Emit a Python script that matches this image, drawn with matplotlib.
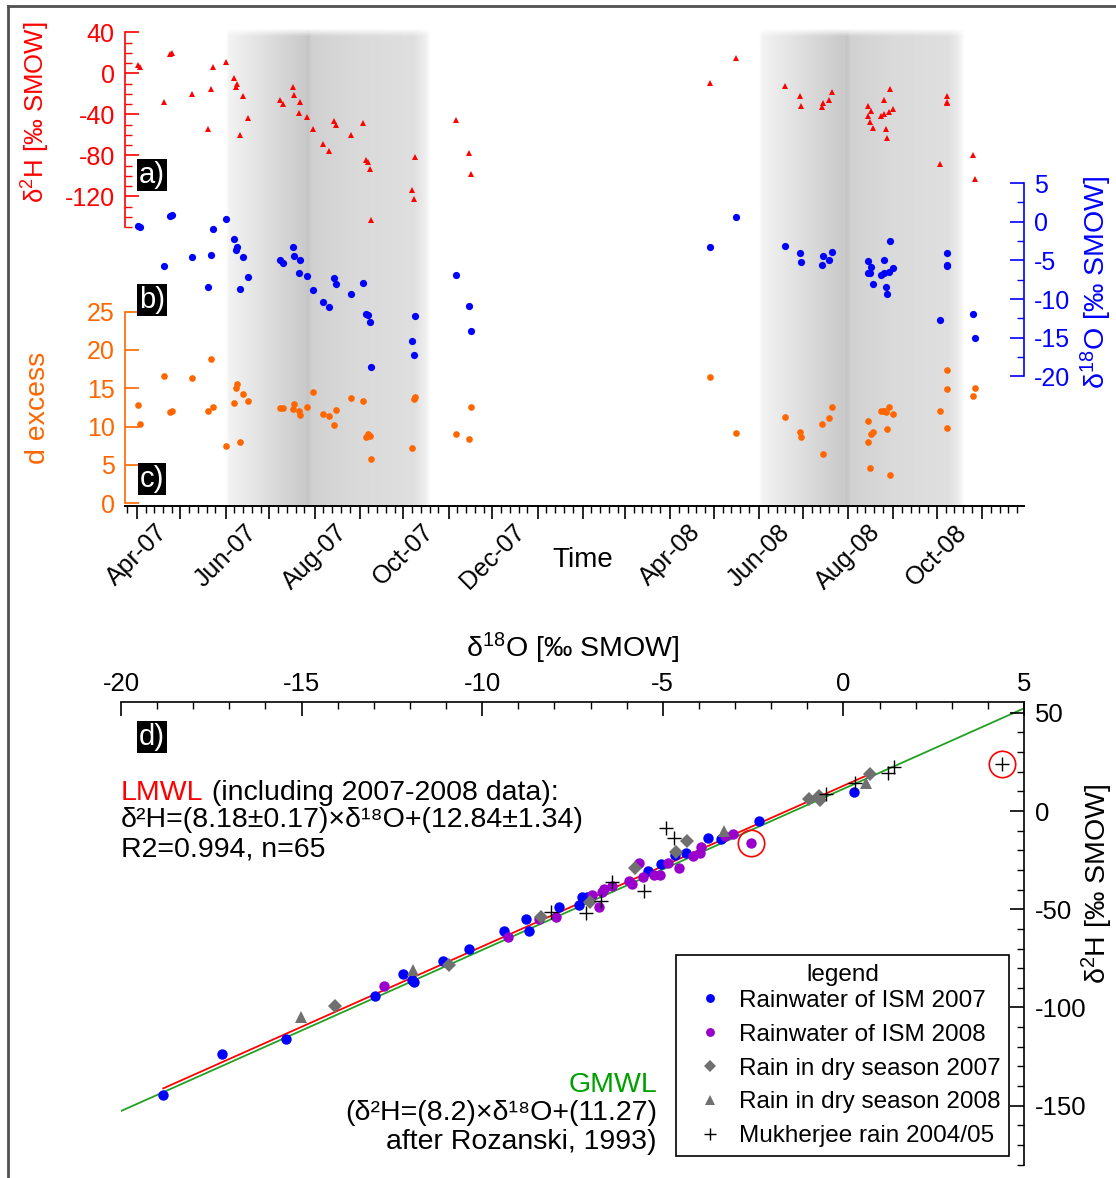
import matplotlib
matplotlib.use("Agg")
import matplotlib.pyplot as plt
import matplotlib.dates as mdates
from matplotlib.lines import Line2D
from matplotlib.ticker import FixedLocator, MultipleLocator, FuncFormatter, NullLocator
import numpy as np

plt.rcParams["font.family"] = ["Liberation Sans", "DejaVu Sans"]
plt.rcParams["mathtext.fontset"] = "custom"
plt.rcParams["mathtext.rm"] = "Liberation Sans"
plt.rcParams["mathtext.it"] = "Liberation Sans:italic"
plt.rcParams["mathtext.default"] = "regular"
plt.rcParams["axes.unicode_minus"] = False

W, H = 1116, 1178

# ---------------- rain samples, time series (panels a-c)
sample_dates = [
    "2007-04-02", "2007-04-03", "2007-04-20", "2007-04-24", "2007-04-25",
    "2007-05-09", "2007-05-20", "2007-05-22", "2007-05-23", "2007-06-01",
    "2007-06-07", "2007-06-08", "2007-06-09", "2007-06-11", "2007-06-13",
    "2007-06-16", "2007-07-08", "2007-07-10", "2007-07-17", "2007-07-18",
    "2007-07-21", "2007-07-22", "2007-07-27", "2007-07-31", "2007-08-07",
    "2007-08-11", "2007-08-14", "2007-08-16", "2007-08-26", "2007-09-03",
    "2007-09-05", "2007-09-07", "2007-09-08", "2007-09-09", "2007-10-07",
    "2007-10-08", "2007-10-09", "2007-11-06", "2007-11-15", "2007-11-16",
    "2008-04-28", "2008-05-16", "2008-06-19", "2008-06-29", "2008-06-30",
    "2008-07-14", "2008-07-15", "2008-07-19", "2008-07-21", "2008-08-15",
    "2008-08-15", "2008-08-16", "2008-08-17", "2008-08-18", "2008-08-24",
    "2008-08-26", "2008-08-26", "2008-08-27", "2008-08-28", "2008-08-29",
    "2008-08-30", "2008-09-01", "2008-10-03", "2008-10-08", "2008-10-08",
    "2008-10-08", "2008-10-26", "2008-10-27",
]
d2h_series = [
    8.1, 6.4, -27.7, 18.8, 19.5, -20.2, -54.0, -15.0, 6.1, 10.7,
    -4.6, -13.7, -10.0, -60.0, -21.8, -43.3, -25.7, -30.0, -13.7, -21.0,
    -39.0, -27.7, -43.0, -54.3, -69.3, -75.5, -46.8, -50.7, -59.9, -48.0,
    -85.0, -86.2, -93.0, -143.0, -114.0, -122.6, -82.0, -45.6, -77.5, -98.2,
    -9.2, 14.9, -12.4, -21.8, -32.2, -33.2, -28.7, -26.3, -17.9, -31.9,
    -41.3, -47.8, -36.8, -53.0, -42.0, -26.3, -40.0, -54.6, -63.1, -38.0,
    -15.6, -34.8, -88.2, -22.4, -27.7, -29.3, -80.0, -103.4,
]
d18o_series = [
    -0.6, -0.7, -5.7, 0.8, 0.85, -4.6, -8.4, -4.3, -0.9, 0.3,
    -2.3, -3.7, -3.3, -8.7, -4.6, -7.2, -4.9, -5.4, -3.3, -4.4,
    -6.6, -5.0, -7.0, -8.8, -10.4, -11.0, -7.3, -8.0, -9.4, -7.9,
    -11.9, -12.1, -13.0, -18.8, -15.4, -17.2, -12.2, -6.9, -10.9, -14.1,
    -3.3, 0.65, -3.1, -4.0, -5.2, -5.6, -4.5, -4.9, -3.9, -5.1,
    -6.6, -6.7, -5.9, -8.0, -6.9, -5.0, -6.7, -8.5, -9.3, -6.5,
    -2.5, -6.0, -12.7, -4.1, -5.7, -5.6, -12.0, -15.0,
]
dexcess_series = [
    12.8, 10.3, 16.6, 11.9, 12.1, 16.3, 12.0, 18.8, 12.6, 7.5,
    13.1, 15.1, 15.6, 8.0, 14.2, 13.4, 12.4, 12.4, 12.3, 13.0,
    12.0, 11.5, 12.6, 14.5, 11.7, 11.4, 10.2, 12.2, 13.7, 13.3,
    8.6, 9.1, 8.8, 5.8, 7.2, 13.6, 13.9, 9.0, 8.4, 12.6,
    16.5, 9.2, 11.3, 9.3, 8.6, 10.4, 6.4, 11.1, 12.6, 8.0,
    10.8, 4.6, 9.1, 9.3, 12.0, 12.0, 12.1, 11.9, 9.7, 12.5,
    3.7, 11.7, 12.1, 9.8, 17.4, 14.9, 14.0, 15.1,
]
# monsoon seasons: start, darkest, end
monsoon_2007 = ["2007-06-01", "2007-07-27", "2007-10-19"]
monsoon_2008 = ["2008-06-01", "2008-07-31", "2008-10-20"]

# ---------------- delta-delta plot (panel d)
ism07_o = [-18.83, -17.19, -15.43, -12.97, -12.20, -11.95, -11.90, -11.08, -10.36, -9.40,
           -8.70, -8.78, -7.87, -7.32, -7.25, -7.11, -5.41, -5.04, -4.65, -4.37,
           -3.74, -3.38, -2.33, 0.28]
ism07_h = [-144.6, -123.6, -115.9, -94.2, -83.2, -86.0, -87.0, -76.2, -70.4, -61.0,
           -61.1, -55.1, -49.0, -47.9, -43.9, -43.6, -30.4, -27.1, -22.6, -21.2,
           -13.9, -14.2, -4.9, 9.8]
ism08_o = [-12.71, -9.28, -8.42, -7.96, -6.95, -6.76, -6.68, -6.63, -6.42, -5.93,
           -5.84, -5.65, -5.54, -5.25, -5.08, -4.85, -4.55, -4.16, -3.97, -3.95,
           -3.28, -3.05, -2.57]
ism08_h = [-89.1, -64.0, -55.1, -53.8, -42.8, -48.7, -41.1, -39.9, -38.2, -35.6,
           -37.3, -26.6, -33.8, -32.6, -32.6, -26.6, -29.2, -22.9, -21.5, -18.2,
           -12.7, -11.9, -16.5]
dry07_o = [-14.07, -10.91, -8.38, -7.02, -5.77, -4.64, -4.33, -0.96, -0.68, -0.65, 0.75]
dry07_h = [-99.3, -78.4, -54.1, -46.2, -28.9, -20.7, -15.3, 6.0, 7.8, 5.6, 18.8]
dry08_o = [-15.02, -11.91, -3.31, 0.62]
dry08_h = [-104.7, -81.0, -10.0, 14.4]
mukh_o = [-8.10, -7.12, -6.70, -6.40, -5.51, -4.90, -4.70, -0.48, 0.31, 1.24, 1.39, 4.39]
mukh_h = [-51.3, -51.8, -45.7, -36.0, -40.8, -8.8, -13.9, 8.5, 14.4, 19.5, 22.6, 23.9]
outliers_o = [-2.57, 4.39]
outliers_h = [-16.5, 23.9]

lmwl_slope, lmwl_icept, lmwl_range = 8.18, 12.84, (-18.83, 0.75)
gmwl_slope, gmwl_icept, gmwl_range = 8.2, 11.27, (-20.0, 5.0)

RED, BLUE, ORANGE = "#ff0000", "#0000ff", "#ff6600"
PURPLE, GREY, GREEN = "#9900cc", "#707070", "#00a000"

fig = plt.figure(figsize=(W / 100, H / 100), dpi=100)


def px_axes(x0, y0, x1, y1, **kw):
    return fig.add_axes([x0 / W, 1 - y1 / H, (x1 - x0) / W, (y1 - y0) / H], **kw)


def px_text(x, y, s, **kw):
    return fig.text(x / W, 1 - y / H, s, **kw)


def tag(x, y, s):
    px_text(x, y, s, color="white", fontsize=21, ha="center", va="center",
            bbox=dict(boxstyle="square,pad=0.06", fc="black", ec="none"))


# ---------------- time axis with shaded monsoon seasons
T_L, T_R, T_T, T_B = 124.5, 1024, 28, 506
ax_t = px_axes(T_L, T_T, T_R, T_B)
for s in ("left", "right", "top"):
    ax_t.spines[s].set_visible(False)
ax_t.spines["bottom"].set_linewidth(1.4)
ax_t.yaxis.set_visible(False)
ax_t.set_ylim(0, 1)


def season_band(start, peak, end):
    s, p, e = mdates.datestr2num([start, peak, end])
    tp = (p - s) / (e - s)
    t = np.linspace(0, 1, 500)
    g = np.interp(t, [0, 0.015, tp - 0.01, tp, tp + 0.02, 0.65, 0.92, 0.97, 1.0],
                  [1.0, 0.95, 0.79, 0.77, 0.82, 0.855, 0.875, 0.93, 1.0])
    rows = 480
    alpha = np.clip(np.arange(rows) / 8.0, 0, 1)
    img = np.ones((rows, t.size, 4))
    img[:, :, 0] = g
    img[:, :, 1] = g
    img[:, :, 2] = g
    img[:, :, 3] = alpha[:, None]
    ax_t.imshow(img, extent=(s, e, 0, 1), aspect="auto", interpolation="bilinear", zorder=0)


season_band(*monsoon_2007)
season_band(*monsoon_2008)

ax_t.set_xlim(mdates.datestr2num("2007-03-23 14:00"), mdates.datestr2num("2008-11-29 19:00"))
ax_t.xaxis.set_major_locator(mdates.MonthLocator())
ax_t.xaxis.set_minor_locator(mdates.DayLocator(bymonthday=[7, 13, 19, 25]))


def month_label(x, pos):
    d = mdates.num2date(x)
    return d.strftime("%b-%y") if d.month in (4, 6, 8, 10, 12) else ""


ax_t.xaxis.set_major_formatter(FuncFormatter(month_label))
ax_t.tick_params(axis="x", which="major", direction="out", length=9, width=1.2,
                 labelsize=18, labelrotation=45, pad=1)
ax_t.tick_params(axis="x", which="minor", direction="out", length=5, width=1)
px_text(583, 560, "Time", fontsize=20, ha="center", va="center")

dates = mdates.datestr2num(sample_dates)


def overlay(ylim, side, color, bounds, major, minor):
    ax = px_axes(T_L, T_T, T_R, T_B, sharex=ax_t)
    ax.patch.set_visible(False)
    for s in ax.spines.values():
        s.set_visible(False)
    ax.xaxis.set_visible(False)
    ax.set_ylim(*ylim)
    sp = ax.spines[side]
    sp.set_visible(True)
    sp.set_color(color)
    sp.set_linewidth(1.2)
    sp.set_bounds(*bounds)
    if side == "right":
        ax.yaxis.tick_right()
    else:
        ax.yaxis.tick_left()
    ax.yaxis.set_major_locator(FixedLocator(major))
    ax.yaxis.set_minor_locator(FixedLocator(minor) if minor is not None else NullLocator())
    ax.tick_params(axis="y", which="major", direction="in", length=10, width=1.2,
                   color=color, labelcolor=color, labelsize=18, pad=7)
    ax.tick_params(axis="y", which="minor", direction="in", length=5, width=1, color=color)
    return ax


ax_a = overlay((-422.1, 44.2), "left", RED, (-150, 40), [-120, -80, -40, 0, 40],
               np.arange(-150, 41, 10))
ax_a.plot(dates, d2h_series, "^", color=RED, ms=4.5, mew=0)

ax_b = overlay((-36.78, 25.06), "right", BLUE, (-20, 5), [-20, -15, -10, -5, 0, 5],
               np.arange(-20, 5.1, 2.5))
ax_b.plot(dates, d18o_series, "o", color=BLUE, ms=5.2, mew=0)

ax_c = overlay((-0.35, 62.0), "left", ORANGE, (0, 25), [0, 5, 10, 15, 20, 25], None)
ax_c.plot(dates, dexcess_series, "o", color=ORANGE, ms=4.8, mew=0)

px_text(36, 112, "δ$^{2}$H [‰ SMOW]", color=RED, fontsize=18.5, rotation=90, ha="center", va="center")
px_text(38, 408, "d excess", color=ORANGE, fontsize=20.5, rotation=90, ha="center", va="center")
px_text(1096, 282, "δ$^{18}$O [‰ SMOW]", color=BLUE, fontsize=20.5, rotation=90, ha="center", va="center")
tag(152, 175, "a)")
tag(152, 300, "b)")
tag(152, 479, "c)")

# ---------------- panel d: d2H vs d18O
ax_d = px_axes(121, 701.7, 1024, 1165)
ax_d.set_xlim(-20, 5)
ax_d.set_ylim(-180.2, 55.65)
ax_d.spines["left"].set_visible(False)
ax_d.spines["bottom"].set_visible(False)
for s in ("top", "right"):
    ax_d.spines[s].set_linewidth(1.2)
ax_d.xaxis.tick_top()
ax_d.yaxis.tick_right()
ax_d.xaxis.set_major_locator(MultipleLocator(5))
ax_d.xaxis.set_minor_locator(MultipleLocator(1))
ax_d.yaxis.set_major_locator(MultipleLocator(50))
ax_d.yaxis.set_minor_locator(MultipleLocator(10))
ax_d.tick_params(which="major", direction="in", length=10, width=1.2, labelsize=18.5)
ax_d.tick_params(axis="x", which="major", pad=4)
ax_d.tick_params(axis="y", which="major", pad=8)
ax_d.tick_params(which="minor", direction="in", length=5, width=1)

gx = np.array(gmwl_range)
ax_d.plot(gx, gmwl_slope * gx + gmwl_icept, color="#22a022", lw=1.3, zorder=1)
lx = np.array(lmwl_range)
ax_d.plot(lx, lmwl_slope * lx + lmwl_icept, color=RED, lw=1.3, zorder=2)

ax_d.plot(ism07_o, ism07_h, "o", color=BLUE, ms=7.5, mew=0, label="Rainwater of ISM 2007", zorder=3)
ax_d.plot(ism08_o, ism08_h, "o", color=PURPLE, ms=7.5, mew=0, label="Rainwater of ISM 2008", zorder=3)
ax_d.plot(dry07_o, dry07_h, "D", color=GREY, ms=7, mew=0, label="Rain in dry season 2007", zorder=3)
ax_d.plot(dry08_o, dry08_h, "^", color=GREY, ms=9, mew=0, label="Rain in dry season 2008", zorder=3)
ax_d.plot(mukh_o, mukh_h, "+", color="black", ms=10, mew=1, label="Mukherjee rain 2004/05", zorder=4)
ax_d.plot(outliers_o, outliers_h, "o", mfc="none", mec=RED, ms=19, mew=1.2, zorder=5)

leg = ax_d.legend(loc="upper left", bbox_to_anchor=(676.4 / W, 1 - 955 / H),
                  bbox_transform=fig.transFigure, title="legend", fontsize=17.5,
                  title_fontsize=17.5, frameon=True, fancybox=False, edgecolor="black",
                  framealpha=1, borderaxespad=0, borderpad=0.35, labelspacing=0.49,
                  handletextpad=0.12, handlelength=2.1, markerscale=0.85)
leg.get_frame().set_linewidth(1.2)
leg._legend_box.sep = 3

px_text(573, 648, "δ$^{18}$O [‰ SMOW]", fontsize=20.5, ha="center", va="center")
px_text(1097, 884, "δ$^{2}$H [‰ SMOW]", fontsize=20.5, rotation=90, ha="center", va="center")
tag(152, 737, "d)")

lm = px_text(121, 800, "LMWL", color=RED, fontsize=20.5, va="baseline")
ax_d.annotate(" (including 2007-2008 data):", xy=(1, 0), xycoords=lm, va="bottom",
              fontsize=20.5, annotation_clip=False)
px_text(121, 827, "δ²H=(8.18±0.17)×δ¹⁸O+(12.84±1.34)", fontsize=20.5, va="baseline")
px_text(121, 856, "R2=0.994, n=65", fontsize=20.5, va="baseline")

px_text(657, 1092, "GMWL", color=GREEN, fontsize=20.5, ha="right", va="baseline")
px_text(657, 1120, "(δ²H=(8.2)×δ¹⁸O+(11.27)", fontsize=20.5, ha="right", va="baseline")
px_text(657, 1149, "after Rozanski, 1993)", fontsize=20.5, ha="right", va="baseline")

# outer frame
fig.add_artist(Line2D([8 / W, 8 / W], [0, 1 - 6 / H], color="#505050", lw=2))
fig.add_artist(Line2D([8 / W, 1], [1 - 6 / H, 1 - 6 / H], color="#505050", lw=2))

fig.savefig("out.png", dpi=100)
